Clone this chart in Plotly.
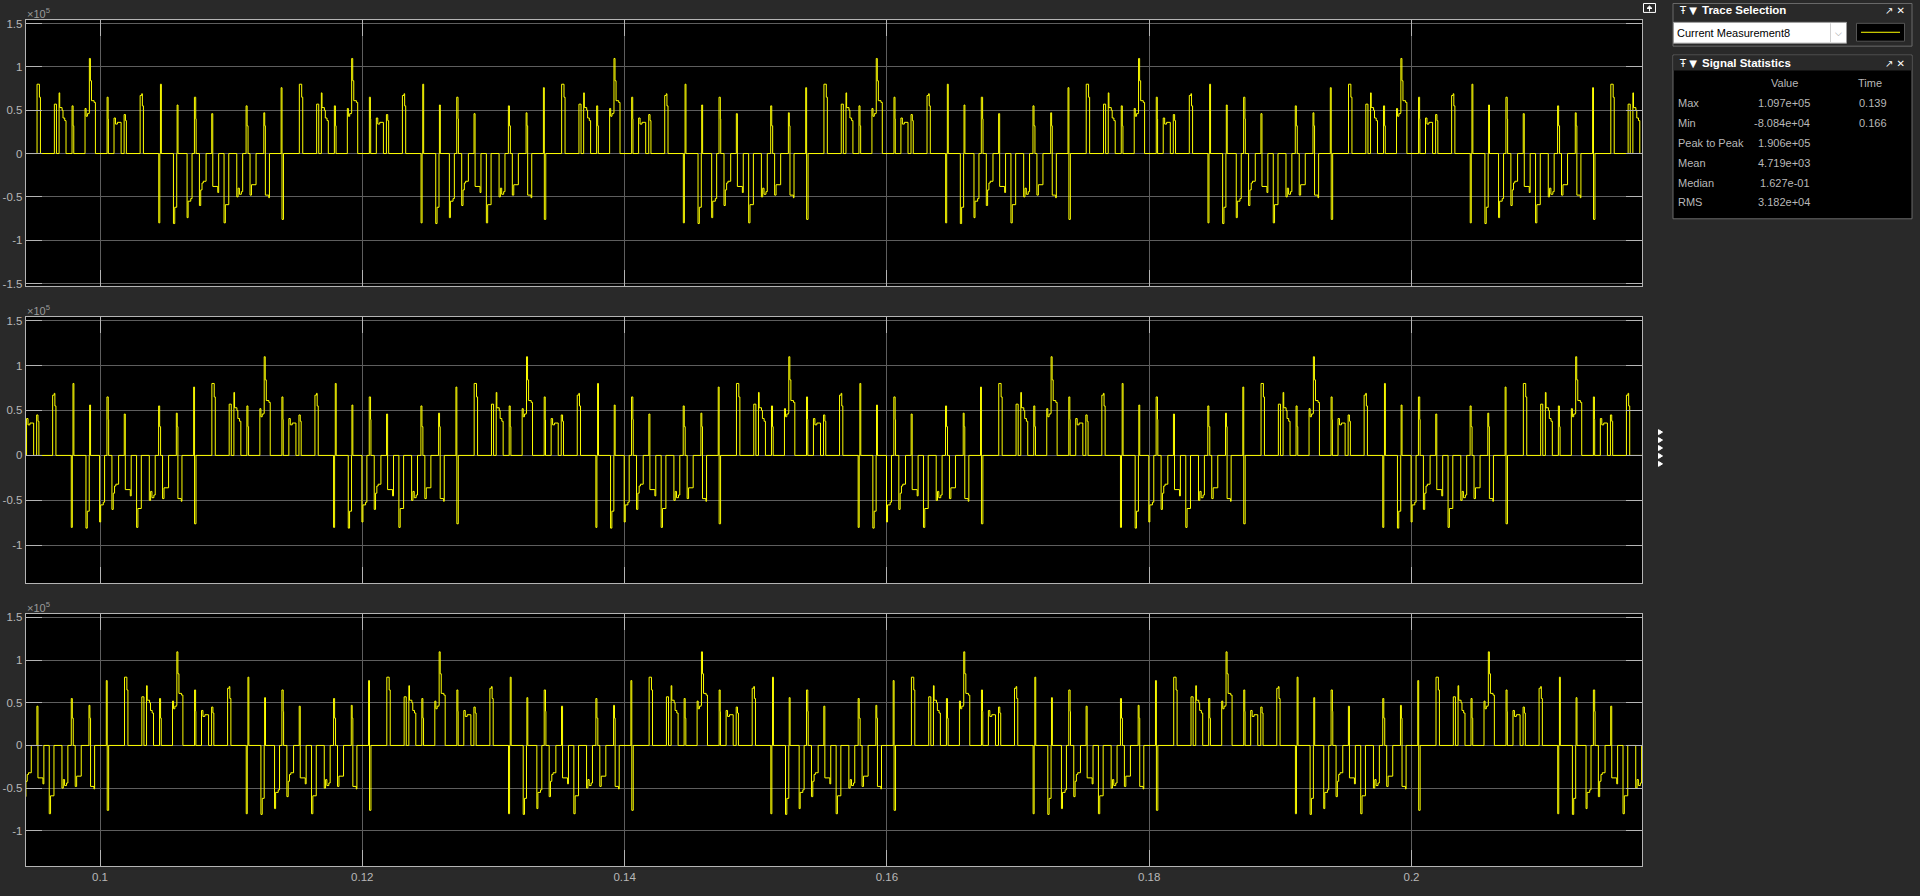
import plotly.graph_objects as go

# ---------------- data ----------------
# One 20 ms period of the measured current, as step breakpoints.
# Offsets in ms from the start of the period, values in units of 1e5 A.
PERIOD_OFFSET_MS = [
    0.00, 0.18, 0.26,
    1.32, 1.48,
    1.68, 1.73, 1.91, 1.98, 2.11, 2.21,
    2.67, 2.75, 2.80,
    3.66, 3.74, 3.84, 3.97, 3.99, 4.07, 4.15, 4.35, 4.45,
    5.34, 5.42, 5.44,
    5.87, 5.98, 6.13, 6.41,
    6.64, 6.74, 6.81,
    7.86, 7.98, 8.03, 8.11,
    9.28, 9.36, 9.41, 9.48,
    10.40, 10.50, 10.65, 10.68, 10.75,
    11.44, 11.52, 11.72, 11.82,
    12.00, 12.10, 12.13,
    12.38, 12.48, 12.58, 12.68, 12.89,
    13.32, 13.40, 13.78, 13.85,
    14.26, 14.36, 14.62,
    15.23, 15.33, 15.43, 15.58, 15.68,
    15.94, 16.02, 16.09,
    16.24, 16.35, 16.70,
    17.29, 17.36, 17.41, 17.67, 17.72,
    18.61, 18.68, 18.79,
]
CURRENT_X1E5 = [
    0.80, 0.65, 0.0,
    0.57, 0.0,
    0.70, 0.53, 0.50, 0.41, 0.38, 0.0,
    0.55, 0.32, 0.0,
    0.52, 0.43, 0.46, 0.47, 1.097, 0.84, 0.61, 0.59, 0.0,
    0.65, 0.40, 0.0,
    0.41, 0.34, 0.36, 0.0,
    0.45, 0.38, 0.0,
    0.67, 0.69, 0.55, 0.0,
    -0.80, 0.0, 0.80, 0.0,
    -0.808, -0.62, 0.0, 0.56, 0.0,
    -0.74, -0.55, -0.52, 0.0,
    0.65, 0.40, 0.0,
    -0.60, -0.42, -0.34, -0.32, 0.0,
    0.46, -0.38, -0.45, 0.0,
    -0.80, -0.59, 0.0,
    -0.50, -0.40, -0.47, -0.44, 0.0,
    0.55, 0.32, 0.0,
    -0.48, -0.36, 0.0,
    0.47, 0.32, -0.48, -0.51, 0.0,
    0.76, -0.76, 0.0,
]
assert len(PERIOD_OFFSET_MS) == len(CURRENT_X1E5)

PERIOD_S = 0.02
PHASE_ORIGIN_S = [0.1152, 0.12853, 0.12187]   # top, middle, bottom displays
PERIODS_SHOWN = list(range(-2, 7))

X_TICKS = [0.1, 0.12, 0.14, 0.16, 0.18, 0.2]
X_TICK_TEXT = ["0.1", "0.12", "0.14", "0.16", "0.18", "0.2"]
Y_TICKS = [-1.5, -1, -0.5, 0, 0.5, 1, 1.5]
Y_TICK_TEXT = ["-1.5", "-1", "-0.5", "0", "0.5", "1", "1.5"]

X_RANGE = [0.094335, 0.21760]
Y_RANGES = [[-1.526, 1.539], [-1.423, 1.544], [-1.415, 1.544]]

TRACE_NAME = "Current Measurement8"
STAT_NAMES = ["Max", "Min", "Peak to Peak", "Mean", "Median", "RMS"]
STAT_VALUES = ["1.097e+05", "-8.084e+04", "1.906e+05", "4.719e+03", "1.627e-01", "3.182e+04"]
STAT_TIMES = ["0.139", "0.166", "", "", "", ""]

# ---------------- styling ----------------
W, H = 1920, 896
BG = "#292929"
GRID = "#5e5e5e"
AXLINE = "#b4b4b4"
TXT = "#b8b8b8"
YELLOW = "#ffff00"
FONT = "Liberation Sans, Arial, sans-serif"


def px(x):
    return x / W


def py(y):
    return 1 - y / H


X_DOMAIN = [px(25.7), px(1642.3)]
Y_DOMAINS_PX = [(17.3, 285.0), (316.0, 585.0), (615.5, 870.0)]

fig = go.Figure()

for i, origin in enumerate(PHASE_ORIGIN_S):
    ts, vs = [X_RANGE[0] - 0.05], [0.0]
    for k in PERIODS_SHOWN:
        for off, v in zip(PERIOD_OFFSET_MS, CURRENT_X1E5):
            ts.append(origin + k * PERIOD_S + off / 1000.0)
            vs.append(v)
    sfx = "" if i == 0 else str(i + 1)
    fig.add_trace(go.Scatter(
        x=ts, y=vs, mode="lines", line=dict(color=YELLOW, width=1, shape="hv"),
        xaxis="x" + sfx, yaxis="y" + sfx, showlegend=False, hoverinfo="skip",
    ))

layout = dict(
    width=W, height=H, paper_bgcolor=BG, plot_bgcolor="black",
    margin=dict(l=0, r=0, t=0, b=0), showlegend=False,
    font=dict(family=FONT, color=TXT, size=11.5),
)

for i in range(3):
    sfx = "" if i == 0 else str(i + 1)
    top_px, bot_px = Y_DOMAINS_PX[i]
    layout["xaxis" + sfx] = dict(
        domain=X_DOMAIN, range=X_RANGE, anchor="y" + sfx,
        tickvals=X_TICKS, ticktext=X_TICK_TEXT, showticklabels=(i == 2),
        ticks="inside", ticklen=16, tickcolor=AXLINE, tickwidth=1,
        showgrid=True, gridcolor=GRID, gridwidth=1, zeroline=False,
        showline=True, linecolor=AXLINE, linewidth=1, mirror="ticks",
        tickfont=dict(family=FONT, color=TXT, size=11.5),
        fixedrange=True,
    )
    layout["yaxis" + sfx] = dict(
        domain=[py(bot_px), py(top_px)], range=Y_RANGES[i], anchor="x" + sfx,
        tickvals=Y_TICKS, ticktext=Y_TICK_TEXT,
        ticks="inside", ticklen=16, tickcolor=AXLINE, tickwidth=1,
        showgrid=True, gridcolor=GRID, gridwidth=1, zeroline=False,
        showline=True, linecolor=AXLINE, linewidth=1, mirror="ticks",
        tickfont=dict(family=FONT, color=TXT, size=11.5),
        fixedrange=True,
    )

fig.update_layout(**layout)

ann = []
shapes = []

# x10^5 exponent labels above each display
for top_px, _ in Y_DOMAINS_PX:
    ann.append(dict(text="×10<sup>5</sup>", x=px(25), y=py(top_px - 7), xref="paper", yref="paper",
                    xanchor="left", yanchor="middle", showarrow=False,
                    font=dict(family=FONT, size=11, color="#9a9a9a")))

PANEL_LINE = "#6a6a6a"
# Trace Selection panel
shapes.append(dict(type="rect", xref="paper", yref="paper", x0=px(1673), x1=px(1912), y0=py(43.5), y1=py(0.5),
                   line=dict(color=PANEL_LINE, width=1), fillcolor=BG))
shapes.append(dict(type="rect", xref="paper", yref="paper", x0=px(1673.5), x1=px(1846.5), y0=py(40.5), y1=py(19.5),
                   line=dict(color="#9a9a9a", width=1), fillcolor="white"))
shapes.append(dict(type="line", xref="paper", yref="paper", x0=px(1830.5), x1=px(1830.5), y0=py(39.5), y1=py(20.5),
                   line=dict(color="#d0d0d0", width=1)))
shapes.append(dict(type="rect", xref="paper", yref="paper", x0=px(1856.5), x1=px(1904.5), y0=py(38.5), y1=py(20.5),
                   line=dict(color="#555555", width=1), fillcolor="black"))
shapes.append(dict(type="line", xref="paper", yref="paper", x0=px(1861), x1=px(1900), y0=py(29.5), y1=py(29.5),
                   line=dict(color=YELLOW, width=1)))
ann.append(dict(text="Ŧ ▼", x=px(1677), y=py(7.5), xref="paper", yref="paper", xanchor="left", yanchor="middle",
                showarrow=False, font=dict(family="DejaVu Sans", size=10, color="white")))
ann.append(dict(text="<b>Trace Selection</b>", x=px(1700), y=py(7.5), xref="paper", yref="paper", xanchor="left",
                yanchor="middle", showarrow=False, font=dict(family=FONT, size=11.5, color="white")))
ann.append(dict(text="↗ ✕", x=px(1907), y=py(7.5), xref="paper", yref="paper", xanchor="right", yanchor="middle",
                showarrow=False, font=dict(family="DejaVu Sans", size=10, color="white")))
ann.append(dict(text=TRACE_NAME, x=px(1675), y=py(30.5), xref="paper", yref="paper", xanchor="left",
                yanchor="middle", showarrow=False, font=dict(family=FONT, size=11, color="black")))
ann.append(dict(text="⌵", x=px(1838.5), y=py(30), xref="paper", yref="paper", xanchor="center",
                yanchor="middle", showarrow=False, font=dict(family="DejaVu Sans", size=9, color="#888888")))

# Signal Statistics panel
shapes.append(dict(type="rect", xref="paper", yref="paper", x0=px(1673), x1=px(1912), y0=py(217.5), y1=py(52.5),
                   line=dict(color=PANEL_LINE, width=1), fillcolor="black"))
shapes.append(dict(type="rect", xref="paper", yref="paper", x0=px(1673.5), x1=px(1911.5), y0=py(68), y1=py(53),
                   line=dict(width=0), fillcolor=BG))
ann.append(dict(text="Ŧ ▼", x=px(1677), y=py(60.5), xref="paper", yref="paper", xanchor="left", yanchor="middle",
                showarrow=False, font=dict(family="DejaVu Sans", size=10, color="white")))
ann.append(dict(text="<b>Signal Statistics</b>", x=px(1700), y=py(60.5), xref="paper", yref="paper",
                xanchor="left", yanchor="middle", showarrow=False, font=dict(family=FONT, size=11.5, color="white")))
ann.append(dict(text="↗ ✕", x=px(1907), y=py(60.5), xref="paper", yref="paper", xanchor="right", yanchor="middle",
                showarrow=False, font=dict(family="DejaVu Sans", size=10, color="white")))
ann.append(dict(text="Value", x=px(1784), y=py(81), xref="paper", yref="paper", xanchor="center",
                yanchor="middle", showarrow=False, font=dict(family=FONT, size=11, color=TXT)))
ann.append(dict(text="Time", x=px(1870), y=py(81), xref="paper", yref="paper", xanchor="center",
                yanchor="middle", showarrow=False, font=dict(family=FONT, size=11, color=TXT)))
for r, (nm, val, tm) in enumerate(zip(STAT_NAMES, STAT_VALUES, STAT_TIMES)):
    yy = py(101 + 20 * r)
    ann.append(dict(text=nm, x=px(1676), y=yy, xref="paper", yref="paper", xanchor="left", yanchor="middle",
                    showarrow=False, font=dict(family=FONT, size=11, color=TXT)))
    ann.append(dict(text=val, x=px(1812), y=yy, xref="paper", yref="paper", xanchor="right", yanchor="middle",
                    showarrow=False, font=dict(family=FONT, size=11, color=TXT)))
    if tm:
        ann.append(dict(text=tm, x=px(1889), y=yy, xref="paper", yref="paper", xanchor="right",
                        yanchor="middle", showarrow=False, font=dict(family=FONT, size=11, color=TXT)))

# small undock icon at top right of the displays
shapes.append(dict(type="rect", xref="paper", yref="paper", x0=px(1643.5), x1=px(1655.5), y0=py(9.5), y1=py(0.5),
                   line=dict(color="white", width=1)))
shapes.append(dict(type="path", xref="paper", yref="paper",
                   path=f"M {px(1647)},{py(5.5)} L {px(1649.5)},{py(3)} L {px(1652)},{py(5.5)} Z "
                        f"M {px(1649.5)},{py(5)} L {px(1649.5)},{py(8.5)}",
                   line=dict(color="white", width=1), fillcolor="white"))

# five small arrow markers at the right edge of the middle display
for j in range(5):
    yc = 432.5 + 8 * j
    shapes.append(dict(type="path", xref="paper", yref="paper",
                       path=f"M {px(1658.5)},{py(yc - 2.5)} L {px(1662.5)},{py(yc)} L {px(1658.5)},{py(yc + 2.5)} Z",
                       line=dict(color="white", width=1), fillcolor="white"))

fig.update_layout(annotations=ann, shapes=shapes)
fig.write_html("out.html")
